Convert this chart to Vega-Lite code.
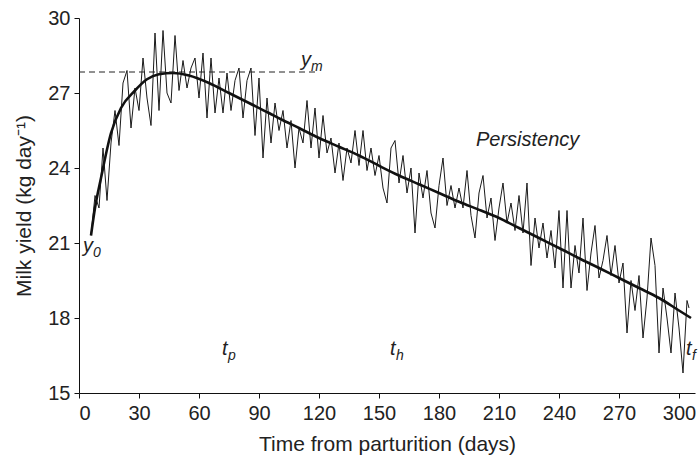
{
  "$schema": "https://vega.github.io/schema/vega-lite/v6.json",
  "width": 616,
  "height": 375,
  "autosize": "none",
  "padding": {"left": 79, "top": 18, "right": 5, "bottom": 62},
  "config": {
    "view": {"stroke": null},
    "font": "Liberation Sans",
    "axis": {
      "grid": false,
      "domainColor": "#111",
      "tickColor": "#111",
      "labelColor": "#222",
      "titleColor": "#222",
      "labelFont": "Liberation Sans",
      "titleFont": "Liberation Sans",
      "labelFontSize": 20,
      "titleFontSize": 21,
      "titleFontWeight": "normal",
      "tickSize": 5
    }
  },
  "datasets": {
    "obs": [
      {"d":6,"v":21.3},{"d":8,"v":22.9},{"d":10,"v":22.4},{"d":12,"v":24.8},{"d":14,"v":22.7},{"d":16,"v":25.0},{"d":18,"v":26.3},{"d":20,"v":24.9},{"d":22,"v":27.4},{"d":24,"v":27.9},
      {"d":26,"v":25.6},{"d":28,"v":27.2},{"d":30,"v":26.3},{"d":32,"v":28.4},{"d":34,"v":26.8},{"d":36,"v":25.7},{"d":38,"v":29.4},{"d":40,"v":26.3},{"d":42,"v":29.5},{"d":44,"v":27.0},
      {"d":46,"v":26.6},{"d":48,"v":29.3},{"d":50,"v":27.1},{"d":52,"v":28.3},{"d":54,"v":27.2},{"d":56,"v":28.0},{"d":58,"v":28.4},{"d":60,"v":26.8},{"d":62,"v":28.6},{"d":64,"v":26.0},
      {"d":66,"v":28.4},{"d":68,"v":26.2},{"d":70,"v":27.6},{"d":72,"v":26.2},{"d":74,"v":27.8},{"d":76,"v":26.3},{"d":78,"v":27.5},{"d":80,"v":28.0},{"d":82,"v":26.0},{"d":84,"v":27.5},
      {"d":86,"v":28.0},{"d":88,"v":25.3},{"d":90,"v":27.6},{"d":92,"v":24.4},{"d":94,"v":26.8},{"d":96,"v":25.0},{"d":98,"v":26.6},{"d":100,"v":25.5},{"d":102,"v":26.3},{"d":104,"v":24.8},
      {"d":106,"v":25.9},{"d":108,"v":24.0},{"d":110,"v":25.6},{"d":112,"v":25.0},{"d":114,"v":26.7},{"d":116,"v":24.8},{"d":118,"v":26.4},{"d":120,"v":24.4},{"d":122,"v":26.1},{"d":124,"v":24.6},
      {"d":126,"v":25.2},{"d":128,"v":23.8},{"d":130,"v":25.0},{"d":132,"v":23.5},{"d":134,"v":24.8},{"d":136,"v":24.2},{"d":138,"v":25.5},{"d":140,"v":24.1},{"d":142,"v":25.5},{"d":144,"v":23.9},
      {"d":146,"v":24.8},{"d":148,"v":23.7},{"d":150,"v":24.5},{"d":152,"v":23.2},{"d":154,"v":22.6},{"d":156,"v":24.8},{"d":158,"v":25.1},{"d":160,"v":23.4},{"d":162,"v":24.5},{"d":164,"v":23.0},
      {"d":166,"v":24.0},{"d":168,"v":21.4},{"d":170,"v":23.8},{"d":172,"v":22.8},{"d":174,"v":23.9},{"d":176,"v":22.2},{"d":178,"v":21.6},{"d":180,"v":23.3},{"d":182,"v":24.4},{"d":184,"v":22.5},
      {"d":186,"v":23.3},{"d":188,"v":22.4},{"d":190,"v":23.2},{"d":192,"v":22.4},{"d":194,"v":23.9},{"d":196,"v":22.1},{"d":198,"v":21.2},{"d":200,"v":23.0},{"d":202,"v":23.7},{"d":204,"v":22.0},
      {"d":206,"v":22.8},{"d":208,"v":21.1},{"d":210,"v":22.4},{"d":212,"v":23.4},{"d":214,"v":21.8},{"d":216,"v":22.6},{"d":218,"v":21.5},{"d":220,"v":22.9},{"d":222,"v":21.4},{"d":224,"v":23.4},
      {"d":226,"v":20.1},{"d":228,"v":22.0},{"d":230,"v":20.8},{"d":232,"v":21.8},{"d":234,"v":20.4},{"d":236,"v":21.5},{"d":238,"v":20.0},{"d":240,"v":22.3},{"d":242,"v":19.2},{"d":244,"v":22.3},
      {"d":246,"v":19.2},{"d":248,"v":20.9},{"d":250,"v":19.8},{"d":252,"v":22.0},{"d":254,"v":19.1},{"d":256,"v":20.6},{"d":258,"v":21.7},{"d":260,"v":19.6},{"d":262,"v":20.3},{"d":264,"v":21.3},
      {"d":266,"v":19.7},{"d":268,"v":20.9},{"d":270,"v":19.4},{"d":272,"v":20.2},{"d":274,"v":17.4},{"d":276,"v":19.5},{"d":278,"v":18.3},{"d":280,"v":19.7},{"d":282,"v":17.2},{"d":284,"v":18.8},
      {"d":286,"v":21.2},{"d":288,"v":20.1},{"d":290,"v":16.6},{"d":292,"v":19.2},{"d":294,"v":18.0},{"d":296,"v":16.6},{"d":298,"v":19.0},{"d":300,"v":17.6},{"d":302,"v":15.8},{"d":304,"v":18.7},
      {"d":305,"v":18.4}
    ],
    "fit": [
      {"d":6,"v":21.3},{"d":8,"v":22.4},{"d":11,"v":23.6},{"d":16,"v":25.4},{"d":21,"v":26.4},{"d":28,"v":27.1},{"d":34,"v":27.55},{"d":40,"v":27.75},{"d":47,"v":27.8},{"d":55,"v":27.7},
      {"d":65,"v":27.4},{"d":75,"v":27.0},{"d":85,"v":26.6},{"d":95,"v":26.2},{"d":101,"v":25.95},{"d":110,"v":25.6},{"d":120,"v":25.2},{"d":130,"v":24.85},{"d":140,"v":24.5},{"d":151,"v":24.05},
      {"d":160,"v":23.7},{"d":170,"v":23.35},{"d":180,"v":23.0},{"d":190,"v":22.65},{"d":201,"v":22.3},{"d":210,"v":22.0},{"d":220,"v":21.6},{"d":230,"v":21.2},{"d":240,"v":20.8},{"d":251,"v":20.35},
      {"d":260,"v":20.0},{"d":270,"v":19.6},{"d":280,"v":19.2},{"d":290,"v":18.8},{"d":300,"v":18.3},{"d":306,"v":18.0}
    ],
    "peak": [{"d0":0,"d1":119,"v":27.84}],
    "labels": [
      {"d":2,"v":20.64,"t":"y","s":"0","base":"y"},
      {"d":111,"v":28.08,"t":"y","s":"m","base":"y"},
      {"d":71.5,"v":16.52,"t":"t","s":"p","base":"t"},
      {"d":155.5,"v":16.52,"t":"t","s":"h","base":"t"},
      {"d":303.5,"v":16.52,"t":"t","s":"f","base":"t"},
      {"d":198.5,"v":24.88,"t":"Persistency","s":"","base":"none"}
    ]
  },
  "encoding": {
    "x": {"field":"d","type":"quantitative","scale":{"domain":[0,308],"nice":false,"zero":false},
          "axis":{"values":[0,30,60,90,120,150,180,210,240,270,300],"title":"Time from parturition (days)","labelPadding":5,"titlePadding":10}},
    "y": {"field":"v","type":"quantitative","scale":{"domain":[15,30],"nice":false,"zero":false},
          "axis":{"values":[15,18,21,24,27,30],"title":"Milk yield (kg day\u207b\u00b9)","labelPadding":4,"titlePadding":13}}
  },
  "layer": [
    {"data":{"name":"obs"},"mark":{"type":"line","stroke":"#1a1a1a","strokeWidth":1}},
    {"data":{"name":"fit"},"mark":{"type":"line","stroke":"#111","strokeWidth":2.6,"interpolate":"monotone"}},
    {"data":{"name":"peak"},"mark":{"type":"rule","stroke":"#222","strokeWidth":1,"strokeDash":[6,4]},
     "encoding":{"x":{"field":"d0","type":"quantitative"},"x2":{"field":"d1"},"y":{"field":"v","type":"quantitative"}}},
    {"data":{"name":"labels"},"mark":{"type":"text","align":"left","baseline":"alphabetic","fontSize":20,"fontStyle":"italic","color":"#222","font":"Liberation Sans"},
     "encoding":{"text":{"field":"t"}}},
    {"data":{"name":"labels"},"transform":[{"filter":"datum.base === 'y'"}],
     "mark":{"type":"text","align":"left","baseline":"alphabetic","fontSize":14,"fontStyle":"italic","color":"#222","font":"Liberation Sans","dx":10,"dy":5},
     "encoding":{"text":{"field":"s"}}},
    {"data":{"name":"labels"},"transform":[{"filter":"datum.base === 't'"}],
     "mark":{"type":"text","align":"left","baseline":"alphabetic","fontSize":14,"fontStyle":"italic","color":"#222","font":"Liberation Sans","dx":6,"dy":5},
     "encoding":{"text":{"field":"s"}}}
  ]
}
